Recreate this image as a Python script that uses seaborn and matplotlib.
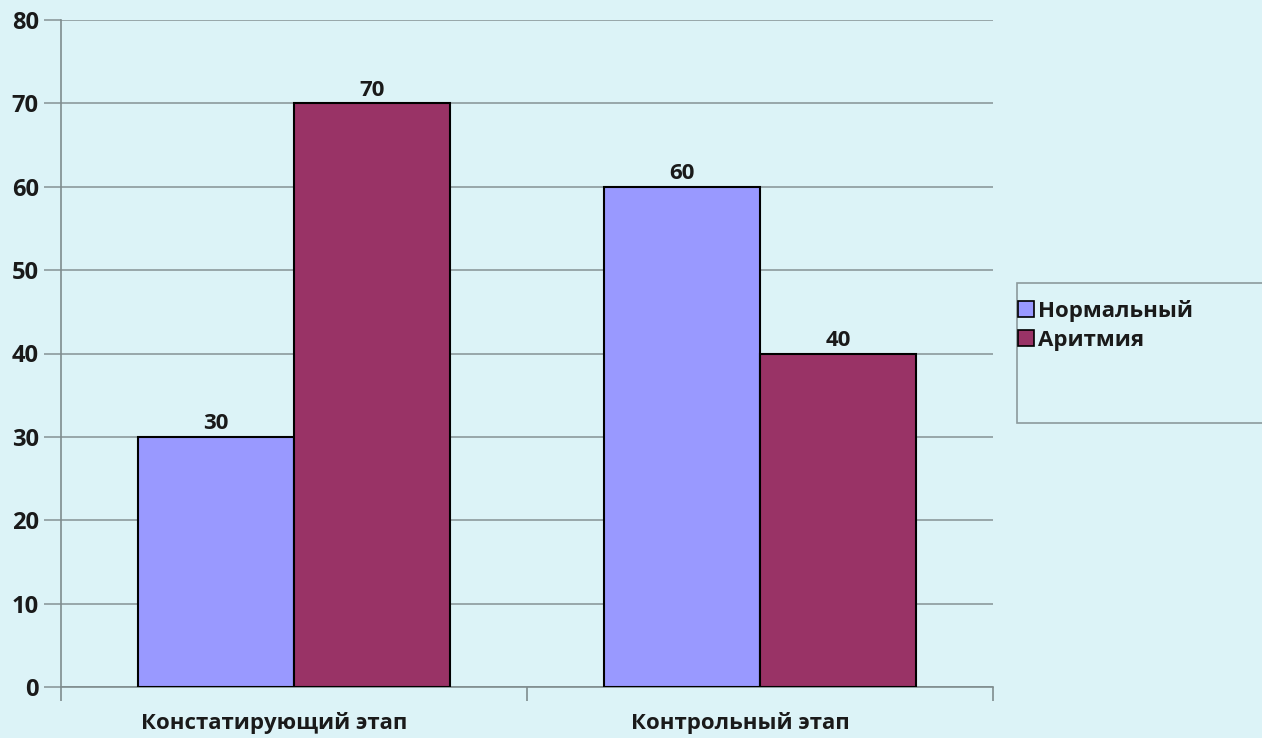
import pandas as pd
import matplotlib.pyplot as plt
import matplotlib.transforms as mtransforms
import seaborn as sns
from matplotlib.patches import Patch, Rectangle

ETAPY = ["Констатирующий этап", "Контрольный этап"]
SERIES = ["Нормальный", "Аритмия"]
NORMALNY = [30, 60]
ARITMIYA = [70, 40]
Y_TICKS = [0, 10, 20, 30, 40, 50, 60, 70, 80]

COLORS = {"Нормальный": "#9999ff", "Аритмия": "#993366"}
BG = "#dcf3f7"
GRID = "#8c9a9c"

df = pd.DataFrame({
    "etap": ETAPY * 2,
    "serie": [SERIES[0]] * 2 + [SERIES[1]] * 2,
    "valor": NORMALNY + ARITMIYA,
})

sns.set_style("white")
plt.rcParams["font.family"] = ["Open Sans", "DejaVu Sans"]
plt.rcParams["font.weight"] = "bold"

fig = plt.figure(figsize=(12.62, 7.38), dpi=100, facecolor=BG)
ax = fig.add_axes([61 / 1262, 1 - 687 / 738, (993 - 61) / 1262, (687 - 20) / 738])
ax.set_facecolor(BG)

sns.barplot(data=df, x="etap", y="valor", hue="serie", order=ETAPY, hue_order=SERIES,
            palette=COLORS, width=0.67, edgecolor="black", linewidth=1.5,
            saturation=1, legend=False, ax=ax, zorder=3)

for cont in ax.containers:
    ax.bar_label(cont, fmt="%d", padding=2, fontsize=16, fontweight="bold", color="#1a1a1a")

ax.set_ylim(0, 80)
ax.set_xlim(-0.5, 1.5)
ax.set_yticks(Y_TICKS)
ax.yaxis.grid(True, color=GRID, linewidth=1.2, zorder=0)
ax.set_axisbelow(True)
ax.set_xlabel("")
ax.set_ylabel("")

for side in ["top", "right"]:
    ax.spines[side].set_visible(False)
for side in ["left", "bottom"]:
    ax.spines[side].set_color("#7f8c8e")
    ax.spines[side].set_linewidth(1.2)

ax.set_xticks([0, 1])
ax.set_xticklabels(ETAPY, fontsize=16, fontweight="bold", color="#1a1a1a")
ax.tick_params(axis="x", which="major", length=0, pad=18, bottom=True)
ax.set_xticks([-0.5, 0.5, 1.5], minor=True)
ax.tick_params(axis="x", which="minor", length=10, color="#7f8c8e", width=1.2,
               direction="out", bottom=True)
ax.tick_params(axis="y", length=12, color=GRID, width=1.2, direction="out", pad=4,
               left=True, labelsize=17, labelcolor="#1a1a1a")
for t in ax.get_yticklabels():
    t.set_fontweight("bold")

# category labels sit a bit left of the group centre in the original
shift = mtransforms.ScaledTranslation(-20 / 100, 0, fig.dpi_scale_trans)
for t in ax.get_xticklabels():
    t.set_transform(t.get_transform() + shift)

# legend box, wider than its entries like in the original
fig.patches.append(Rectangle((1017 / 1262, 1 - 423 / 738), 260 / 1262, 140 / 738,
                             transform=fig.transFigure, facecolor=BG, edgecolor=GRID,
                             linewidth=1.2, zorder=1))
handles = [Patch(facecolor=COLORS[s], edgecolor="black", linewidth=1.2, label=s) for s in SERIES]
leg = fig.legend(handles=handles, loc="upper left",
                 bbox_to_anchor=(1000 / 1262, 1 - 282 / 738),
                 frameon=False, fontsize=16, handlelength=0.75, handleheight=0.75,
                 handletextpad=0.15, borderpad=0.3, labelspacing=0.35)
for t in leg.get_texts():
    t.set_fontweight("bold")
    t.set_color("#1a1a1a")

fig.savefig("out.png", dpi=100, facecolor=BG)
